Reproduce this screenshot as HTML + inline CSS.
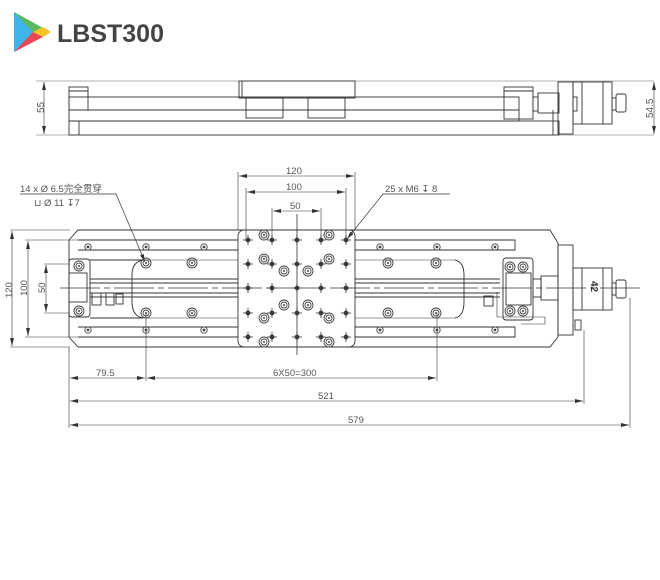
<!DOCTYPE html>
<html><head><meta charset="utf-8"><style>
body{margin:0;background:#fff;width:660px;height:580px;overflow:hidden}
svg{display:block}
text{font-family:"Liberation Sans","Noto Sans CJK SC",sans-serif;fill:#555}
</style></head><body>
<svg width="660" height="580" viewBox="0 0 660 580" xmlns="http://www.w3.org/2000/svg">
<defs>
<marker id="a" markerWidth="8" markerHeight="6" refX="8" refY="3" orient="auto-start-reverse" markerUnits="userSpaceOnUse"><path d="M0,1 L8,3 L0,5z" fill="#333"/></marker>
<g id="cb"><circle r="5" fill="none" stroke="#444" stroke-width="0.9"/><circle r="3" fill="none" stroke="#444" stroke-width="0.9"/><circle r="1" fill="#444"/></g>
<g id="sh"><circle r="3.2" fill="none" stroke="#444" stroke-width="0.9"/><circle r="1.4" fill="#444"/></g>
<g id="cr"><circle r="2.4" fill="#444"/><line x1="-5" y1="0" x2="5" y2="0" stroke="#333" stroke-width="0.8"/><line x1="0" y1="-5" x2="0" y2="5" stroke="#333" stroke-width="0.8"/></g>
</defs>
<!-- logo -->
<polygon points="14,12 14,52 50,32" fill="#3fb4e8"/>
<polygon points="14,12 33,32 43,28" fill="#5cb85c"/>
<polygon points="14,52 33,32 43,37" fill="#e84855"/>
<polygon points="33,32 43,27 51,32 43,37" fill="#f7c325"/>
<text x="57" y="42" font-size="25" font-weight="bold" style="fill:#444">LBST300</text>

<!-- side view -->
<g fill="none" stroke="#333" stroke-width="0.9">
<line x1="36" y1="81" x2="558" y2="81" stroke="#666" stroke-width="0.6"/>
<line x1="36" y1="135" x2="654" y2="135" stroke="#666" stroke-width="0.6"/>
<line x1="558" y1="81" x2="654" y2="81" stroke="#666" stroke-width="0.6"/>
<line x1="44" y1="82" x2="44" y2="134" marker-start="url(#a)" marker-end="url(#a)" stroke-width="0.6"/>
<line x1="654" y1="82" x2="654" y2="134" marker-start="url(#a)" marker-end="url(#a)" stroke-width="0.6"/>
<rect x="69" y="87" width="19" height="23"/>
<line x1="69" y1="91" x2="88" y2="91"/>
<rect x="69" y="97" width="450" height="13"/>
<rect x="69" y="110" width="450" height="11"/>
<rect x="69" y="121" width="490" height="14"/>
<line x1="79" y1="121" x2="79" y2="135"/>
<line x1="553" y1="110" x2="553" y2="135"/>
<rect x="239" y="81" width="116" height="17"/>
<line x1="242" y1="81" x2="242" y2="98"/>
<rect x="246" y="98" width="37" height="20"/>
<rect x="308" y="98" width="37" height="20"/>
<rect x="504" y="87" width="29" height="32"/>
<line x1="504" y1="91" x2="533" y2="91"/>
<rect x="533" y="97" width="5" height="14"/>
<rect x="538" y="93" width="21" height="20"/>
<rect x="558" y="82" width="15" height="52"/>
<rect x="573" y="82" width="39" height="42"/>
<line x1="582" y1="82" x2="582" y2="124"/><line x1="603" y1="82" x2="603" y2="124"/>
<rect x="573" y="97" width="4" height="14"/>
<rect x="612" y="98" width="4" height="12"/>
<rect x="616" y="94" width="10" height="18" rx="2"/>
</g>
<text transform="translate(44,113) rotate(-90)" font-size="10">55</text>
<text transform="translate(653,118) rotate(-90)" font-size="10">54.5</text>

<!-- top view -->
<g fill="none" stroke="#333" stroke-width="0.9">
<!-- dims -->
<line x1="10" y1="230" x2="70" y2="230" stroke-width="0.6"/>
<line x1="10" y1="347" x2="70" y2="347" stroke-width="0.6"/>
<line x1="12" y1="231" x2="12" y2="346" marker-start="url(#a)" marker-end="url(#a)" stroke-width="0.6"/>
<line x1="25" y1="240" x2="78" y2="240" stroke-width="0.6"/>
<line x1="25" y1="337" x2="78" y2="337" stroke-width="0.6"/>
<line x1="28" y1="241" x2="28" y2="336" marker-start="url(#a)" marker-end="url(#a)" stroke-width="0.6"/>
<line x1="44" y1="264" x2="70" y2="264" stroke-width="0.6"/>
<line x1="44" y1="313" x2="70" y2="313" stroke-width="0.6"/>
<line x1="46" y1="265" x2="46" y2="312" marker-start="url(#a)" marker-end="url(#a)" stroke-width="0.6"/>
<!-- plate -->
<path d="M78,230 L550,230 L558,243 L558,337 L550,347 L78,347 L69,337 L69,240 Z"/>
<path d="M78,240 L515,240 L515,250 L78,250"/>
<path d="M78,327 L515,327 L515,337 L78,337"/>
<path d="M90,260 L143,260 Q132,262 132,275 L132,302 Q132,316 143,318 L90,318"/>
<path d="M90,279 L500,279 M90,283 L500,283 M90,293 L500,293 M90,297 L500,297"/>
<path d="M455,260 Q464,262 464,275 L464,302 Q464,316 455,318"/>
<line x1="132" y1="260" x2="455" y2="260" stroke-width="0.6"/>
<line x1="132" y1="318" x2="455" y2="318" stroke-width="0.6"/>
<!-- left end block -->
<rect x="69" y="259" width="21" height="58" rx="3"/>
<rect x="69" y="273" width="18" height="29"/>
<rect x="92" y="293" width="9" height="12"/><rect x="106" y="293" width="8" height="12"/><rect x="116" y="294" width="7" height="10"/>
<!-- right end block -->
<rect x="503" y="258" width="30" height="62" rx="3"/>
<rect x="506" y="273" width="25" height="32"/>
<rect x="533" y="279" width="8" height="18"/>
<rect x="541" y="276" width="17" height="24"/>
<path d="M497,292 L497,317 L545,317 L545,324 L521,324" stroke-width="0.6"/>
<rect x="484" y="296" width="9" height="10"/>
<!-- flange/motor -->
<rect x="558" y="245" width="15" height="90"/>
<rect x="573" y="268" width="39" height="42"/>
<line x1="582" y1="268" x2="582" y2="310"/><line x1="603" y1="268" x2="603" y2="310"/>
<rect x="612" y="283" width="4" height="12"/>
<rect x="616" y="280" width="10" height="18" rx="2"/>
<rect x="575" y="320" width="6" height="10"/>
<!-- carriage -->
<rect x="238" y="230" width="117" height="117" rx="6" fill="#fff"/>
<line x1="297" y1="214" x2="297" y2="355" stroke-width="0.8"/>
<!-- centerline -->
<line x1="60" y1="288" x2="640" y2="288" stroke-dasharray="40,4,6,4" stroke-width="0.8"/>
<!-- top dims -->
<line x1="238" y1="172" x2="238" y2="230" stroke-width="0.6"/>
<line x1="355" y1="172" x2="355" y2="230" stroke-width="0.6"/>
<line x1="239" y1="176" x2="354" y2="176" marker-start="url(#a)" marker-end="url(#a)" stroke-width="0.6"/>
<line x1="246" y1="188" x2="246" y2="240" stroke-width="0.6"/>
<line x1="346" y1="188" x2="346" y2="240" stroke-width="0.6"/>
<line x1="247" y1="192" x2="345" y2="192" marker-start="url(#a)" marker-end="url(#a)" stroke-width="0.6"/>
<line x1="272" y1="208" x2="272" y2="240" stroke-width="0.6"/>
<line x1="321" y1="208" x2="321" y2="240" stroke-width="0.6"/>
<line x1="273" y1="211" x2="320" y2="211" marker-start="url(#a)" marker-end="url(#a)" stroke-width="0.6"/>
<!-- leaders -->
<polyline points="20,194 116,194 145,262" stroke-width="0.7" marker-end="url(#a)"/>
<polyline points="450,194 383,194 347,239" stroke-width="0.7" marker-end="url(#a)"/>
<!-- bottom dims -->
<line x1="69" y1="347" x2="69" y2="428" stroke-width="0.6"/>
<line x1="146" y1="313" x2="146" y2="381" stroke-width="0.6"/>
<line x1="437" y1="313" x2="437" y2="381" stroke-width="0.6"/>
<line x1="584" y1="330" x2="584" y2="404" stroke-width="0.6"/>
<line x1="630" y1="298" x2="630" y2="428" stroke-width="0.6"/>
<line x1="70" y1="378" x2="145" y2="378" marker-start="url(#a)" marker-end="url(#a)" stroke-width="0.6"/>
<line x1="147" y1="378" x2="436" y2="378" marker-start="url(#a)" marker-end="url(#a)" stroke-width="0.6"/>
<line x1="70" y1="401" x2="583" y2="401" marker-start="url(#a)" marker-end="url(#a)" stroke-width="0.6"/>
<line x1="70" y1="425" x2="629" y2="425" marker-start="url(#a)" marker-end="url(#a)" stroke-width="0.6"/>
</g>
<!-- holes -->
<use href="#cb" x="146" y="263"/><use href="#cb" x="192" y="263"/><use href="#cb" x="146" y="313"/><use href="#cb" x="192" y="313"/>
<use href="#cb" x="388" y="263"/><use href="#cb" x="436" y="263"/><use href="#cb" x="388" y="313"/><use href="#cb" x="436" y="313"/>
<use href="#cb" x="79" y="266"/><use href="#cb" x="79" y="311"/>
<use href="#cb" x="510" y="267"/><use href="#cb" x="523" y="267"/><use href="#cb" x="510" y="311"/><use href="#cb" x="523" y="311"/>
<use href="#sh" x="88" y="247"/><use href="#sh" x="146" y="247"/><use href="#sh" x="204" y="247"/>
<use href="#sh" x="380" y="247"/><use href="#sh" x="437" y="247"/><use href="#sh" x="495" y="247"/>
<use href="#sh" x="88" y="330"/><use href="#sh" x="146" y="330"/><use href="#sh" x="204" y="330"/>
<use href="#sh" x="380" y="330"/><use href="#sh" x="437" y="330"/><use href="#sh" x="495" y="330"/>
<g>
<use href="#cr" x="248" y="240"/><use href="#cr" x="272" y="240"/><use href="#cr" x="297" y="240"/><use href="#cr" x="321" y="240"/><use href="#cr" x="346" y="240"/>
<use href="#cr" x="248" y="264"/><use href="#cr" x="272" y="264"/><use href="#cr" x="297" y="264"/><use href="#cr" x="321" y="264"/><use href="#cr" x="346" y="264"/>
<use href="#cr" x="248" y="288"/><use href="#cr" x="272" y="288"/><use href="#cr" x="297" y="288"/><use href="#cr" x="321" y="288"/><use href="#cr" x="346" y="288"/>
<use href="#cr" x="248" y="313"/><use href="#cr" x="272" y="313"/><use href="#cr" x="297" y="313"/><use href="#cr" x="321" y="313"/><use href="#cr" x="346" y="313"/>
<use href="#cr" x="248" y="337"/><use href="#cr" x="272" y="337"/><use href="#cr" x="297" y="337"/><use href="#cr" x="321" y="337"/><use href="#cr" x="346" y="337"/>
</g>
<use href="#cb" x="264" y="235"/><use href="#cb" x="329" y="235"/><use href="#cb" x="264" y="259"/><use href="#cb" x="329" y="259"/>
<use href="#cb" x="284" y="271"/><use href="#cb" x="308" y="271"/><use href="#cb" x="284" y="305"/><use href="#cb" x="308" y="305"/>
<use href="#cb" x="264" y="318"/><use href="#cb" x="329" y="318"/><use href="#cb" x="264" y="342"/><use href="#cb" x="329" y="342"/>
<text transform="translate(591,281) rotate(90)" font-size="10" font-weight="bold" style="fill:#333">42</text>
<!-- labels -->
<text x="20" y="192" font-size="9.5">14 x Ø 6.5完全贯穿</text>
<text x="34" y="206" font-size="9.5">⊔  Ø 11 ↧7</text>
<text x="385" y="192" font-size="9.5">25 x  M6  ↧ 8</text>
<text x="286" y="174" font-size="9.5">120</text>
<text x="286" y="190" font-size="9.5">100</text>
<text x="290" y="209" font-size="9.5">50</text>
<text transform="translate(12,298) rotate(-90)" font-size="9.5">120</text>
<text transform="translate(27,296) rotate(-90)" font-size="9.5">100</text>
<text transform="translate(45,293) rotate(-90)" font-size="9.5">50</text>
<text x="96" y="376" font-size="9.5">79.5</text>
<text x="273" y="376" font-size="9.5">6X50=300</text>
<text x="318" y="399" font-size="9.5">521</text>
<text x="348" y="423" font-size="9.5">579</text>
</svg>
</body></html>
